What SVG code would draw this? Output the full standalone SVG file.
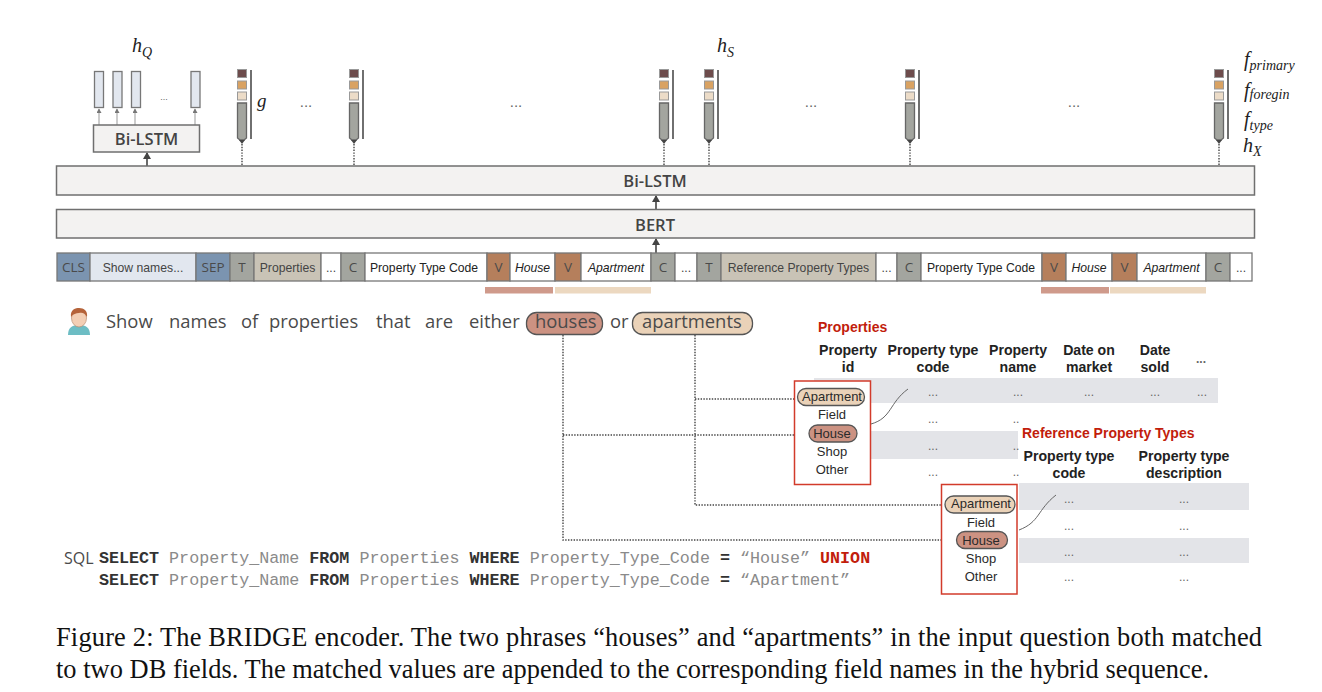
<svg xmlns="http://www.w3.org/2000/svg" width="1322" height="692" viewBox="0 0 1322 692">
<style>
text{font-family:"Liberation Sans",Arial,sans-serif}
.bar{fill:#f3f2f1;stroke:#6f6f6f;stroke-width:1.5}
.bt{font-family:"Open Sans",sans-serif;font-size:16.5px;font-weight:600;fill:#444;text-anchor:middle}
.tk{stroke:#777;stroke-width:1.3}
.tt{font-size:12.2px;text-anchor:middle;fill:#444}
.ttb{font-family:"Open Sans",sans-serif;font-size:13.5px;text-anchor:middle;fill:#4a4a4a}
.b1{fill:#7b94b0}.b2{fill:#e2e7ef}.gr{fill:#a3a59f}.tn{fill:#c9c3b6}.wh{fill:#fff}.br{fill:#b57f5c}
.vec{fill:#e2e7ef;stroke:#777;stroke-width:1.3}
.thin{stroke:#999;stroke-width:1;fill:none}
.dot{stroke:#444;stroke-width:1.4;stroke-dasharray:1.4 1.4;fill:none}
.arr{stroke:#444;stroke-width:1.6;fill:none}
.m{font-family:"Liberation Serif",serif;font-style:italic;fill:#222}
.d{font-size:12px;fill:#666;text-anchor:middle}
.h{font-size:14.1px;font-weight:bold;fill:#222;text-anchor:middle}
.red{font-size:14px;font-weight:bold;fill:#c21d0c}
.row{fill:#e3e4e8}
.box{fill:#fff;stroke:#d23b2b;stroke-width:1.5}
.pa{fill:#ead2b8;stroke:#555;stroke-width:1.3}
.ph{fill:#cc9282;stroke:#555;stroke-width:1.3}
.v{font-size:13px;text-anchor:middle;fill:#2a2a2a}
.q{font-family:"Open Sans",sans-serif;font-size:18.4px;fill:#4a4a4a}
.sq{font-family:"Liberation Mono",monospace;font-size:16.7px;fill:#8a8a8a;white-space:pre}
.sq tspan.k{font-weight:bold;fill:#333}
.cap{font-family:"Liberation Serif",serif;font-size:26.4px;fill:#111}
</style>
<defs>
<marker id="ah" markerWidth="9" markerHeight="9" refX="6" refY="4" orient="auto" markerUnits="userSpaceOnUse"><path d="M0 0L7 4L0 8Z" fill="#444"/></marker>
<marker id="as" markerWidth="6" markerHeight="6" refX="4" refY="2.5" orient="auto" markerUnits="userSpaceOnUse"><path d="M0 0L4.5 2.5L0 5Z" fill="#777"/></marker>
<g id="pen">
<rect x="-4.500" y="0.500" width="9" height="8" fill="#6d4c4c" stroke="#999"/>
<rect x="-4.500" y="12" width="9" height="8" fill="#d9a262" stroke="#999"/>
<rect x="-4.500" y="23" width="9" height="8" fill="#ecdcc8" stroke="#999"/>
<path d="M-4.500 34H4.500V69L2 71H-2L-4.500 69Z" fill="#a3a59f" stroke="#666" stroke-width="1.3"/>
<path d="M-3 71H3L0 75Z" fill="#444"/>
<path d="M9 1V70" stroke="#333" stroke-width="1.4"/>
</g>
</defs>

<g id="connectors">
<path class="thin" d="M99 125V109" marker-end="url(#as)"/>
<path class="thin" d="M117 125V109" marker-end="url(#as)"/>
<path class="thin" d="M135 125V109" marker-end="url(#as)"/>
<path class="thin" d="M195 125V109" marker-end="url(#as)"/>
<path class="arr" d="M147 166V153" marker-end="url(#ah)"/>
<path class="arr" d="M656 209V196" marker-end="url(#ah)"/>
<path class="arr" d="M656 253V239" marker-end="url(#ah)"/>
<path class="dot" d="M242 144V166M354 144V166M664 144V166M709 144V166M910 144V166M1219 144V166"/>
<path class="dot" d="M563 335V540H956M563 435H809"/>
<path class="dot" d="M695 335V505H941M695 399H797"/>
</g>

<g id="hq">
<text class="m" x="132" y="52" font-size="20">h<tspan font-size="14" dy="5">Q</tspan></text>
<rect class="vec" x="94.500" y="71.500" width="9" height="36"/>
<rect class="vec" x="113" y="71.500" width="9" height="36"/>
<rect class="vec" x="131.500" y="71.500" width="9" height="36"/>
<rect class="vec" x="191" y="71.500" width="9" height="36"/>
<text x="164" y="100" class="d" style="font-size:9px">...</text>
</g>
<g id="bilstm-q"><rect class="bar" x="93.500" y="125" width="106" height="27"/><text class="bt" x="146.500" y="145">Bi-LSTM</text></g>
<g id="bilstm"><rect class="bar" x="56.500" y="166" width="1198" height="29"/><text class="bt" x="655" y="187">Bi-LSTM</text></g>
<g id="bert"><rect class="bar" x="56.500" y="209.500" width="1198" height="28.500"/><text class="bt" x="655" y="231">BERT</text></g>

<g id="pens">
<use href="#pen" x="242" y="69"/><use href="#pen" x="354" y="69"/><use href="#pen" x="664" y="69"/><use href="#pen" x="709" y="69"/><use href="#pen" x="910" y="69"/><use href="#pen" x="1219" y="69"/>
</g>
<g id="labels">
<text class="m" x="257" y="107" font-size="19">g</text>
<text x="306" y="107" style="font-size:15px" class="d">...</text>
<text x="516" y="107" style="font-size:15px" class="d">...</text>
<text x="811" y="107" style="font-size:15px" class="d">...</text>
<text x="1074" y="107" style="font-size:15px" class="d">...</text>
<text class="m" x="717" y="52" font-size="20">h<tspan font-size="14" dy="5">S</tspan></text>
<text class="m" x="1244" y="66" font-size="20">f<tspan font-size="14" dy="4">primary</tspan></text>
<text class="m" x="1244" y="97" font-size="20">f<tspan font-size="14" dy="2">foregin</tspan></text>
<text class="m" x="1244" y="126" font-size="20">f<tspan font-size="14" dy="4">type</tspan></text>
<text class="m" x="1243" y="152" font-size="20">h<tspan font-size="14" dy="4">X</tspan></text>
</g>

<g id="tokens">
<rect class="tk b1" x="57" y="253" width="33" height="28"/><text class="ttb" x="73.500" y="272">CLS</text>
<rect class="tk b2" x="90" y="253" width="106" height="28"/><text class="tt" x="143" y="271.500">Show names...</text>
<rect class="tk b1" x="196" y="253" width="34" height="28"/><text class="ttb" x="213" y="272">SEP</text>
<rect class="tk gr" x="230" y="253" width="24" height="28"/><text class="ttb" x="242" y="272">T</text>
<rect class="tk tn" x="254" y="253" width="67" height="28"/><text class="tt" x="287.500" y="271.500">Properties</text>
<rect class="tk wh" x="321" y="253" width="20" height="28"/><text class="tt" x="331" y="271.500">...</text>
<rect class="tk gr" x="341" y="253" width="24" height="28"/><text class="ttb" x="353" y="272">C</text>
<rect class="tk wh" x="365" y="253" width="122" height="28"/><text class="tt" x="424" y="271.500" style="fill:#222">Property Type Code</text>
<rect class="tk br" x="487" y="253" width="23" height="28"/><text class="ttb" x="498.500" y="272">V</text>
<rect class="tk wh" x="510" y="253" width="45" height="28"/><text class="tt" x="532.500" y="271.500" font-style="italic" style="fill:#222">House</text>
<rect class="tk br" x="555" y="253" width="26" height="28"/><text class="ttb" x="568" y="272">V</text>
<rect class="tk wh" x="581" y="253" width="70" height="28"/><text class="tt" x="616" y="271.500" font-style="italic" style="fill:#222">Apartment</text>
<rect class="tk gr" x="651" y="253" width="24" height="28"/><text class="ttb" x="663" y="272">C</text>
<rect class="tk wh" x="675" y="253" width="22" height="28"/><text class="tt" x="686" y="271.500">...</text>
<rect class="tk gr" x="697" y="253" width="24" height="28"/><text class="ttb" x="709" y="272">T</text>
<rect class="tk tn" x="721" y="253" width="155" height="28"/><text class="tt" x="798.500" y="271.500">Reference Property Types</text>
<rect class="tk wh" x="876" y="253" width="21" height="28"/><text class="tt" x="886.500" y="271.500">...</text>
<rect class="tk gr" x="897" y="253" width="24" height="28"/><text class="ttb" x="909" y="272">C</text>
<rect class="tk wh" x="921" y="253" width="121" height="28"/><text class="tt" x="981" y="271.500" style="fill:#222">Property Type Code</text>
<rect class="tk br" x="1042" y="253" width="24" height="28"/><text class="ttb" x="1054" y="272">V</text>
<rect class="tk wh" x="1066" y="253" width="46" height="28"/><text class="tt" x="1089" y="271.500" font-style="italic" style="fill:#222">House</text>
<rect class="tk br" x="1112" y="253" width="25" height="28"/><text class="ttb" x="1124.500" y="272">V</text>
<rect class="tk wh" x="1137" y="253" width="69" height="28"/><text class="tt" x="1171.500" y="271.500" font-style="italic" style="fill:#222">Apartment</text>
<rect class="tk gr" x="1206" y="253" width="24" height="28"/><text class="ttb" x="1218" y="272">C</text>
<rect class="tk wh" x="1230" y="253" width="22" height="28"/><text class="tt" x="1241" y="271.500">...</text>
</g>
<g id="match-bars">
<rect x="485" y="287" width="68" height="6.500" fill="#cf9a8b"/><rect x="555" y="287" width="96" height="6.500" fill="#ecd8c0"/>
<rect x="1041" y="287" width="68" height="6.500" fill="#cf9a8b"/><rect x="1110" y="287" width="96" height="6.500" fill="#ecd8c0"/>
</g>

<g id="user">
<path d="M68 335C68 327 73 325 79 325C85 325 90 327 90 335Z" fill="#6dbdc4"/>
<ellipse cx="79" cy="318" rx="7.500" ry="9" fill="#f3cfb5" stroke="#b98c70" stroke-width=".7"/>
<path d="M71 317C70 309 76 308 79 308C84 308 88 311 87 317C85 313 82 312 79 313C76 313 73 314 71 317Z" fill="#b5633a"/>
</g>
<g id="question">
<text class="q" y="328"><tspan x="106">Show</tspan><tspan x="169">names</tspan><tspan x="241">of</tspan><tspan x="269">properties</tspan><tspan x="376">that</tspan><tspan x="425">are</tspan><tspan x="469">either</tspan></text>
<rect class="ph" x="526.500" y="312.500" width="76" height="22" rx="10"/>
<text class="q" x="535" y="328">houses</text>
<text class="q" x="610" y="328">or</text>
<rect class="pa" x="632.500" y="312.500" width="120" height="22" rx="10"/>
<text class="q" x="642" y="328">apartments</text>
</g>

<g id="table-properties">
<text class="red" x="818" y="332">Properties</text>
<text class="h" x="848" y="355">Property</text><text class="h" x="848" y="372">id</text>
<text class="h" x="933" y="355">Property type</text><text class="h" x="933" y="372">code</text>
<text class="h" x="1018" y="355">Property</text><text class="h" x="1018" y="372">name</text>
<text class="h" x="1089" y="355">Date on</text><text class="h" x="1089" y="372">market</text>
<text class="h" x="1155" y="355">Date</text><text class="h" x="1155" y="372">sold</text>
<text class="d" x="1201" y="363" style="font-weight:bold">...</text>
<rect class="row" x="814" y="378" width="404" height="25"/>
<rect class="row" x="870" y="431" width="148" height="28"/>
<text class="d" x="933" y="396">...</text><text class="d" x="1018" y="396">...</text><text class="d" x="1089" y="396">...</text><text class="d" x="1155" y="396">...</text><text class="d" x="1202" y="396">...</text>
<text class="d" x="933" y="423">...</text><text class="d" x="1016" y="423">..</text>
<text class="d" x="933" y="450">...</text><text class="d" x="1016" y="450">..</text>
<text class="d" x="933" y="476">...</text><text class="d" x="1016" y="476">..</text>
</g>
<g id="values-1">
<rect class="box" x="794.500" y="381" width="76" height="103.500"/>
<rect class="pa" x="797.500" y="388.500" width="67" height="17" rx="8.500"/>
<text class="v" x="832" y="401">Apartment</text>
<text class="v" x="832" y="419">Field</text>
<rect class="ph" x="809" y="425" width="48" height="17" rx="8.500"/>
<text class="v" x="832" y="438">House</text>
<text class="v" x="832" y="456">Shop</text>
<text class="v" x="832" y="474">Other</text>
<path d="M871 424C892 418 889 403 908 389" fill="none" stroke="#666" stroke-width="1"/>
</g>

<g id="table-reference">
<rect x="1019" y="425" width="240" height="58" fill="#fff"/>
<text class="red" x="1022" y="438">Reference Property Types</text>
<text class="h" x="1069" y="461">Property type</text><text class="h" x="1069" y="478">code</text>
<text class="h" x="1184" y="461">Property type</text><text class="h" x="1184" y="478">description</text>
<rect class="row" x="1019" y="483" width="230" height="27"/>
<rect class="row" x="1019" y="538" width="230" height="25"/>
<text class="d" x="1069" y="503">...</text><text class="d" x="1184" y="503">...</text>
<text class="d" x="1069" y="530">...</text><text class="d" x="1184" y="530">...</text>
<text class="d" x="1069" y="556">...</text><text class="d" x="1184" y="556">...</text>
<text class="d" x="1069" y="581">...</text><text class="d" x="1184" y="581">...</text>
</g>
<g id="values-2">
<rect class="box" x="941.500" y="484.500" width="75.500" height="109.500"/>
<rect class="pa" x="945" y="496" width="70" height="17" rx="8.500"/>
<text class="v" x="981" y="508">Apartment</text>
<text class="v" x="981" y="527">Field</text>
<rect class="ph" x="956.500" y="531.500" width="51" height="17" rx="8.500"/>
<text class="v" x="981" y="545">House</text>
<text class="v" x="981" y="563">Shop</text>
<text class="v" x="981" y="581">Other</text>
<path d="M1019 530C1040 522 1037 510 1056 495" fill="none" stroke="#666" stroke-width="1"/>
</g>

<g id="sql">
<text x="64" y="564" fill="#4a4a4a" style="font-family:'Open Sans',sans-serif;font-size:16px">SQL</text>
<text class="sq" x="99" y="563"><tspan class="k">SELECT</tspan> Property_Name <tspan class="k">FROM</tspan> Properties <tspan class="k">WHERE</tspan> Property_Type_Code <tspan class="k">=</tspan> “House” <tspan class="k" style="fill:#c21d0c">UNION</tspan></text>
<text class="sq" x="99" y="585"><tspan class="k">SELECT</tspan> Property_Name <tspan class="k">FROM</tspan> Properties <tspan class="k">WHERE</tspan> Property_Type_Code <tspan class="k">=</tspan> “Apartment”</text>
</g>

<g id="caption">
<text class="cap" x="56" y="646" textLength="1206">Figure 2: The BRIDGE encoder. The two phrases “houses” and “apartments” in the input question both matched</text>
<text class="cap" x="56" y="678" textLength="1153">to two DB fields. The matched values are appended to the corresponding field names in the hybrid sequence.</text>
</g>
</svg>
